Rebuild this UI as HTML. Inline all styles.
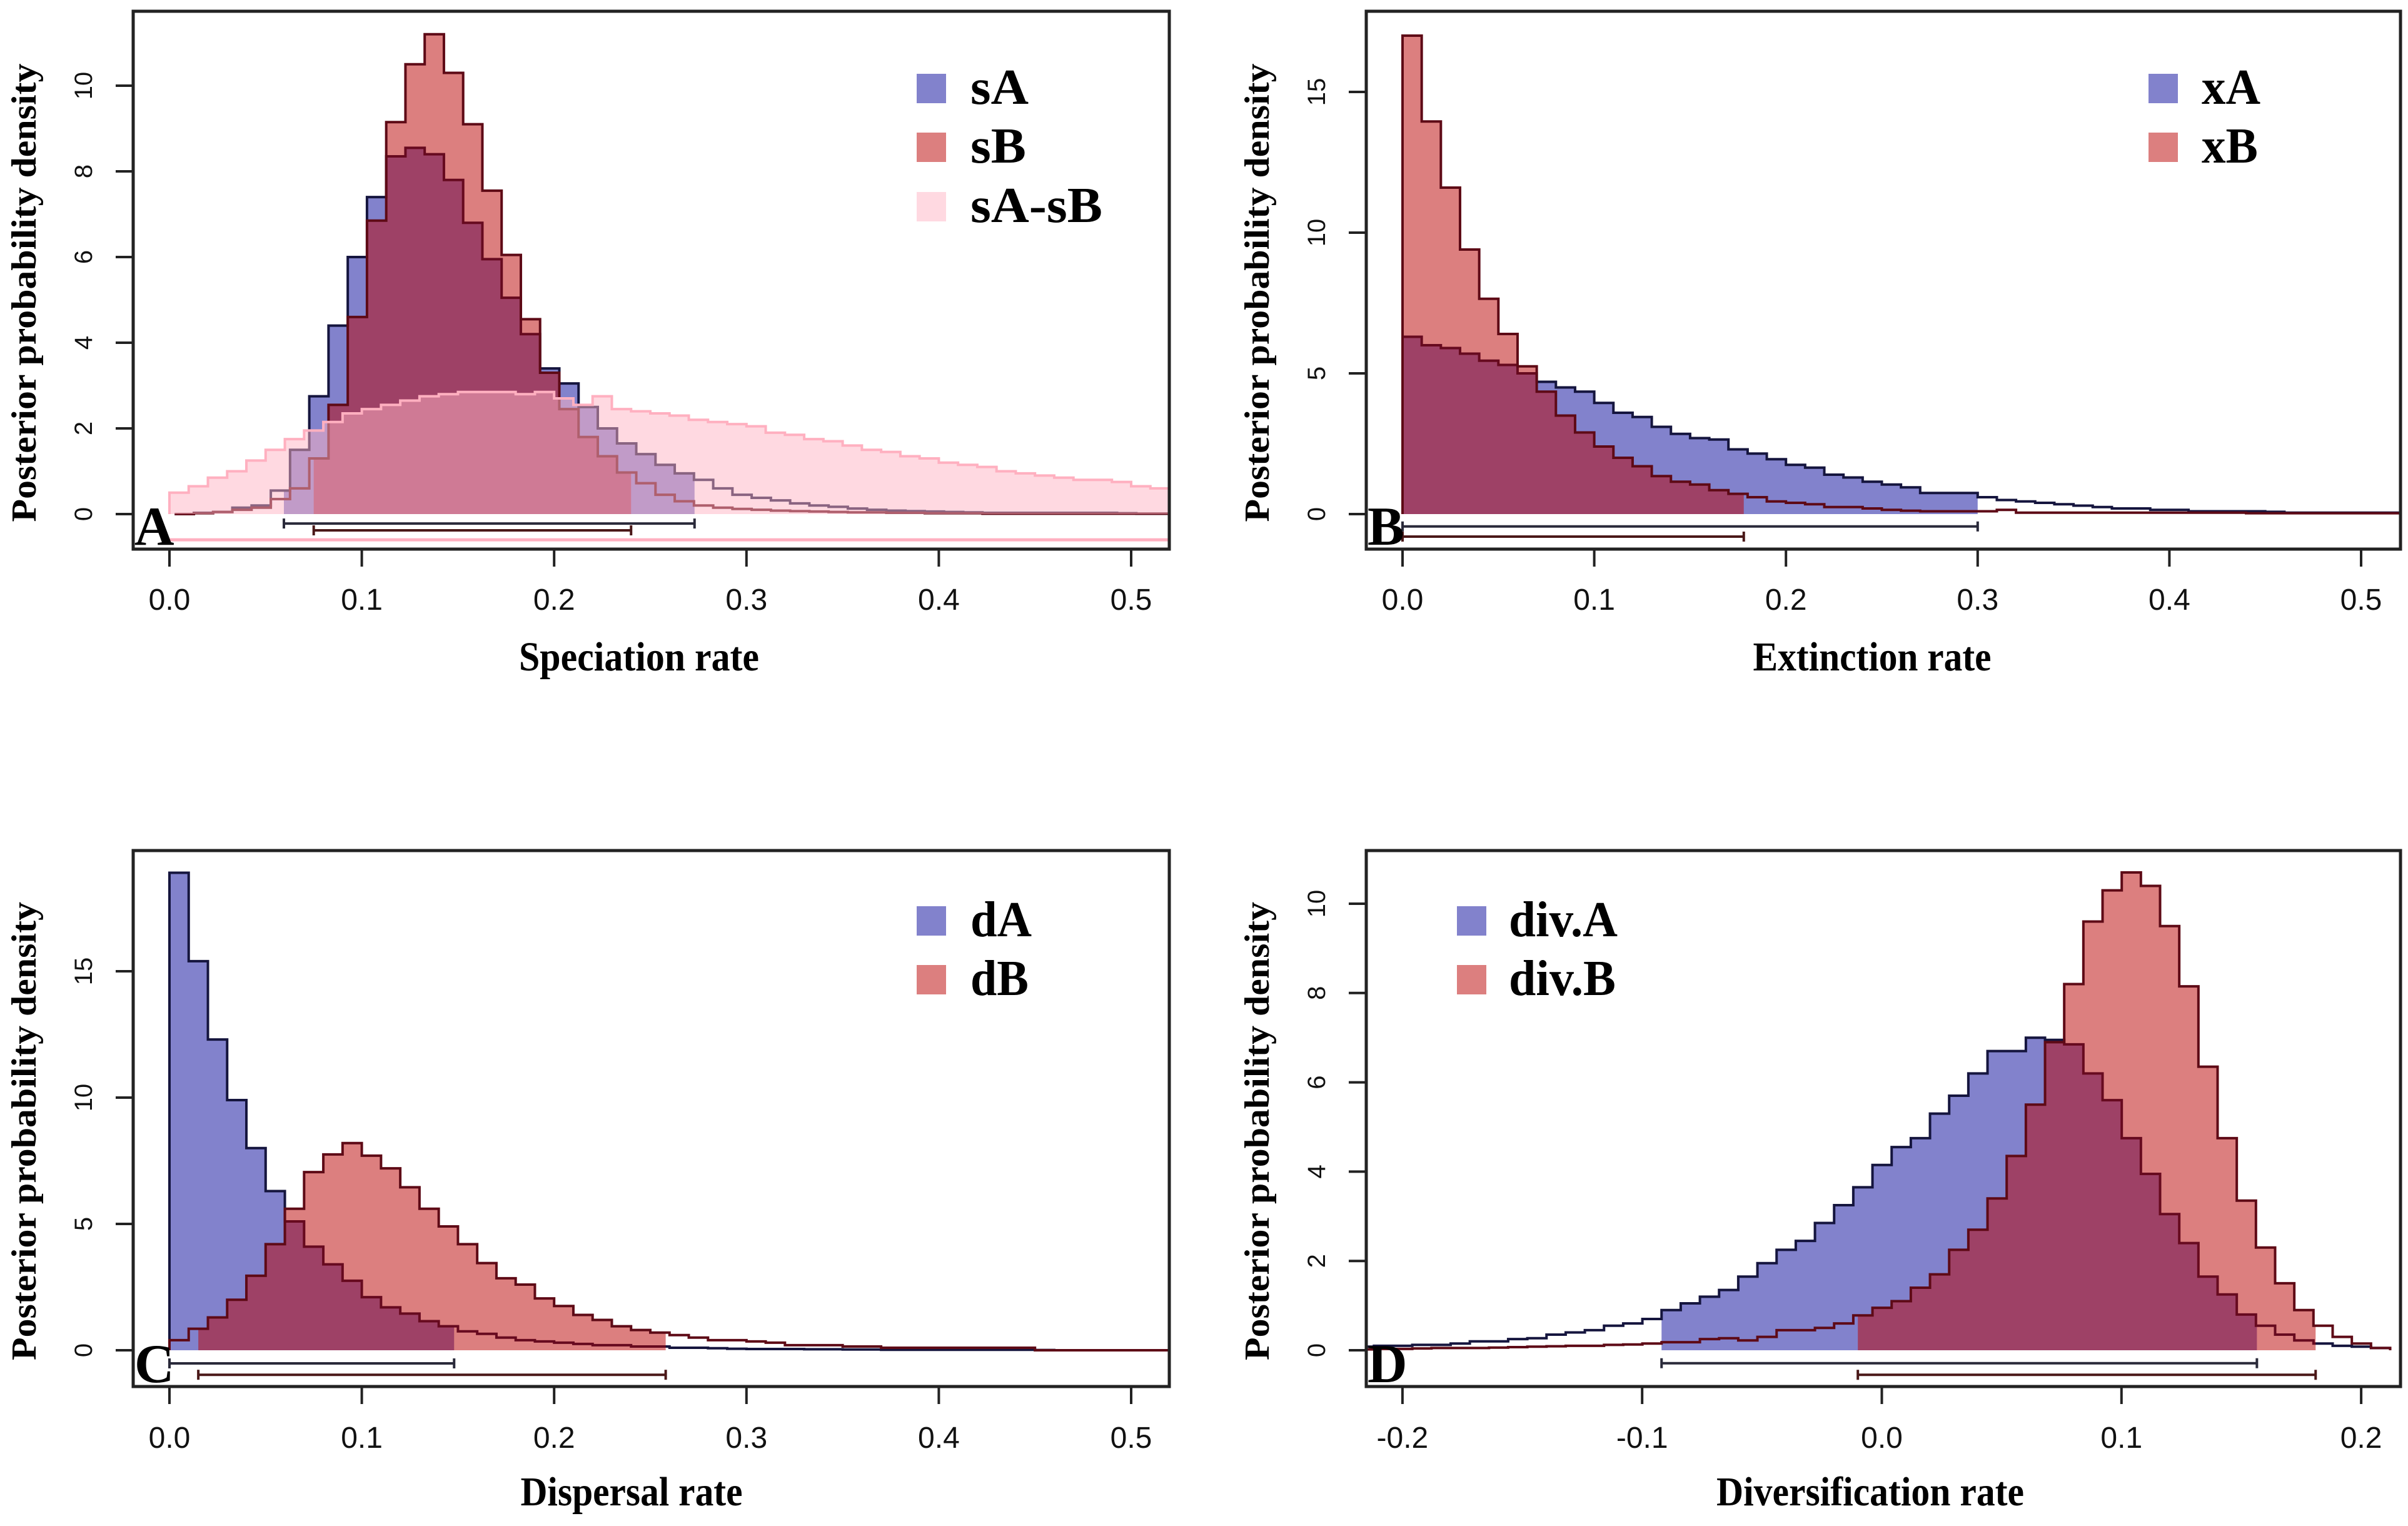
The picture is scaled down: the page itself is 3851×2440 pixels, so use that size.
<!DOCTYPE html>
<html><head><meta charset="utf-8"><style>
html,body{margin:0;padding:0;background:#fff;}
svg{display:block;}
.tick{font-family:"Liberation Sans Narrow","Liberation Sans",sans-serif;font-size:48px;fill:#111;}
.ytick{font-family:"Liberation Sans",sans-serif;font-size:40px;fill:#111;}
.title{font-family:"Liberation Serif",serif;font-weight:bold;fill:#000;}
</style></head><body>
<svg id="chart" xmlns="http://www.w3.org/2000/svg" width="3851" height="2440" viewBox="0 0 3851 2440">
<rect x="0" y="0" width="3851" height="2440" fill="#fff"/>
</svg>
<script>
// ---- Panel A: speciation ----
const sA_start = 0.0027, sA_width = 0.01;
const sA_vals = [0,0.03,0.05,0.15,0.2,0.55,1.5,2.75,4.4,6.0,7.4,8.35,8.55,8.4,7.8,6.8,5.95,5.05,4.2,3.4,3.05,2.5,2.0,1.65,1.4,1.15,0.95,0.8,0.6,0.45,0.38,0.32,0.25,0.2,0.17,0.13,0.1,0.08,0.07,0.06,0.05,0.04,0.03,0.03,0.03,0.03,0.03,0.03,0.03,0.02,0.01,0.01];
const sA_hpd = [0.0595,0.273];
const sB_start = 0.0027, sB_width = 0.01;
const sB_vals = [0,0.02,0.05,0.1,0.15,0.35,0.6,1.3,2.55,4.6,6.85,9.15,10.5,11.2,10.3,9.1,7.55,6.05,4.55,3.3,2.45,1.8,1.35,0.97,0.72,0.45,0.3,0.2,0.15,0.12,0.1,0.08,0.07,0.06,0.05,0.04,0.04,0.03,0.03,0.02,0.02,0.02,0.01,0.01,0.01,0.01,0.01,0.01,0.01,0.01,0.01,0.01];
const sB_hpd = [0.075,0.24];
const sAB_start = 0, sAB_width = 0.01;
const sAB_vals = [0.5,0.65,0.85,1.0,1.25,1.5,1.75,1.95,2.15,2.35,2.45,2.55,2.65,2.75,2.8,2.85,2.85,2.85,2.8,2.85,2.7,2.55,2.75,2.45,2.4,2.35,2.3,2.2,2.15,2.1,2.05,1.9,1.85,1.75,1.7,1.6,1.5,1.45,1.35,1.3,1.2,1.15,1.1,1.0,0.95,0.9,0.85,0.8,0.8,0.75,0.65,0.6,0.6,0.6];
const sAB_hpd = [0,0.6];
// ---- Panel B: extinction ----
const xA_start = 0, xA_width = 0.01;
const xA_vals = [6.3,6.0,5.9,5.7,5.45,5.3,5.0,4.7,4.5,4.35,3.95,3.6,3.45,3.1,2.85,2.7,2.65,2.3,2.15,1.95,1.75,1.65,1.4,1.3,1.15,1.05,0.95,0.75,0.75,0.75,0.6,0.5,0.45,0.4,0.35,0.3,0.25,0.2,0.2,0.15,0.15,0.1,0.1,0.1,0.1,0.08,0.05,0.05,0.05,0.05,0.05,0.05,0.05];
const xA_hpd = [0,0.30];
const xB_start = 0, xB_width = 0.01;
const xB_vals = [17.0,13.95,11.6,9.4,7.65,6.4,5.25,4.35,3.5,2.9,2.4,2.0,1.7,1.35,1.15,1.05,0.85,0.72,0.6,0.45,0.4,0.35,0.25,0.25,0.2,0.15,0.12,0.1,0.1,0.1,0.1,0.15,0.05,0.05,0.05,0.05,0.05,0.05,0.05,0.05,0.05,0.05,0.05,0.05,0.03,0.03,0.03,0.03,0.03,0.03,0.03,0.03,0.03];
const xB_hpd = [0,0.178];
// ---- Panel C: dispersal ----
const dA_start = 0, dA_width = 0.01;
const dA_vals = [18.9,15.4,12.3,9.9,8.0,6.3,5.1,4.1,3.4,2.75,2.1,1.7,1.45,1.15,0.95,0.75,0.65,0.5,0.4,0.35,0.3,0.25,0.2,0.2,0.15,0.15,0.1,0.1,0.08,0.06,0.05,0.05,0.05,0.04,0.04,0.03,0.03,0.02,0.02,0.02,0.02,0.02,0.02,0.02,0.02,0.01,0,0,0,0,0,0,0];
const dA_hpd = [0,0.148];
const dB_start = 0, dB_width = 0.01;
const dB_vals = [0.4,0.85,1.3,2.0,2.95,4.2,5.6,7.05,7.75,8.2,7.7,7.2,6.45,5.6,4.9,4.2,3.45,2.85,2.6,2.05,1.75,1.4,1.2,0.95,0.8,0.7,0.6,0.5,0.4,0.4,0.35,0.3,0.2,0.2,0.2,0.15,0.15,0.1,0.1,0.1,0.1,0.1,0.1,0.1,0.1,0,0,0,0,0,0,0,0];
const dB_hpd = [0.015,0.258];
// ---- Panel D: diversification ----
const divA_start = -0.2199, divA_width = 0.008;
const divA_vals = [0.08,0.1,0.1,0.12,0.12,0.15,0.2,0.2,0.25,0.27,0.35,0.4,0.45,0.55,0.6,0.7,
  0.9,1.05,1.2,1.35,1.65,1.95,2.25,2.45,2.85,3.25,3.65,4.15,4.55,4.75,5.3,5.7,6.2,6.7,6.7,7.0,6.95,6.85,6.2,5.6,4.75,3.95,3.05,2.4,1.65,1.25,0.8,0.55,0.35,0.22,0.15,0.1,0.08,0.05];
const divA_hpd = [-0.0919,0.1565];
const divB_start = -0.2199, divB_width = 0.008;
const divB_vals = [0.02,0.03,0.03,0.04,0.05,0.05,0.05,0.06,0.07,0.08,0.09,0.1,0.1,0.12,0.13,0.15,
  0.18,0.18,0.25,0.27,0.22,0.3,0.45,0.45,0.5,0.6,0.78,0.95,1.1,1.4,1.7,2.25,2.7,3.4,4.35,5.5,6.9,8.2,9.6,10.3,10.7,10.4,9.5,8.15,6.35,4.75,3.35,2.3,1.5,0.9,0.55,0.3,0.15,0.05];
const divB_hpd = [-0.01,0.181];
// tick labels
const tickA = [0,0.1,0.2,0.3,0.4,0.5], tickA_lab = ["0.0","0.1","0.2","0.3","0.4","0.5"];
const tickD = [-0.2,-0.1,0,0.1,0.2], tickD_lab = ["-0.2","-0.1","0.0","0.1","0.2"];
const yticksA = [0,2,4,6,8,10], yticksB = [0,5,10,15], yticksC = [0,5,10,15], yticksD = [0,2,4,6,8,10];

const NS = "http://www.w3.org/2000/svg";
const svg = document.getElementById('chart');
function mk(tag, attrs, parent){const e=document.createElementNS(NS,tag);for(const k in attrs)e.setAttribute(k,attrs[k]);(parent||svg).appendChild(e);return e;}

const BLUE_F="rgba(0,0,150,0.49)", RED_F="rgba(185,0,0,0.5)", PINK_F="rgba(255,180,196,0.5)";
const BLUE_L="#15153e", RED_L="#5e0a16", PINK_L="#ffb0c0";

const panels = [
 {id:'a', letter:'A', box:[213,18,1870,878], x0:271, xs:3076, y0:822, ys:68.5, xt:tickA, xl:tickA_lab, yt:yticksA, title:'Speciation rate', tlen:384, tcx:1022, tcy:1072, xlabY:975,
  series:[
   {name:'sA', start:sA_start, w:sA_width, vals:sA_vals, hpd:sA_hpd, fill:BLUE_F, line:BLUE_L, iy:-0.22, ic:'#2a2a3a'},
   {name:'sB', start:sB_start, w:sB_width, vals:sB_vals, hpd:sB_hpd, fill:RED_F, line:RED_L, iy:-0.38, ic:'#4a1818'},
   {name:'sA-sB', start:sAB_start, w:sAB_width, vals:sAB_vals, hpd:sAB_hpd, fill:PINK_F, line:PINK_L, iy:-0.6, ic:'#ffb0c0', nocap:true}],
  legend:{x:1466, ys:[118,212,307], lens:[93,89,211], tx:1552}},
 {id:'b', letter:'B', box:[2185,18,3839,878], x0:2243, xs:3066, y0:822, ys:45, xt:tickA, xl:tickA_lab, yt:yticksB, title:'Extinction rate', tlen:381, tcx:2994, tcy:1072, xlabY:975,
  series:[
   {name:'xA', start:xA_start, w:xA_width, vals:xA_vals, hpd:xA_hpd, fill:BLUE_F, line:BLUE_L, iy:-0.44, ic:'#2a2a3a'},
   {name:'xB', start:xB_start, w:xB_width, vals:xB_vals, hpd:xB_hpd, fill:RED_F, line:RED_L, iy:-0.8, ic:'#4a1818'}],
  legend:{x:3436, ys:[118,212], lens:[94,90], tx:3521}},
 {id:'c', letter:'C', box:[213,1360,1870,2217], x0:271, xs:3076, y0:2159, ys:40.4, xt:tickA, xl:tickA_lab, yt:yticksC, title:'Dispersal rate', tlen:355, tcx:1010, tcy:2407, xlabY:2315,
  series:[
   {name:'dA', start:dA_start, w:dA_width, vals:dA_vals, hpd:dA_hpd, fill:BLUE_F, line:BLUE_L, iy:-0.52, ic:'#2a2a3a'},
   {name:'dB', start:dB_start, w:dB_width, vals:dB_vals, hpd:dB_hpd, fill:RED_F, line:RED_L, iy:-0.97, ic:'#4a1818'}],
  legend:{x:1466, ys:[1449,1543], lens:[98,93], tx:1552}},
 {id:'d', letter:'D', box:[2185,1360,3839,2217], x0:3009.5, xs:3833, y0:2159, ys:71.4, xt:tickD, xl:tickD_lab, yt:yticksD, title:'Diversification rate', tlen:492, tcx:2991, tcy:2407, xlabY:2315,
  series:[
   {name:'div.A', start:divA_start, w:divA_width, vals:divA_vals, hpd:divA_hpd, fill:BLUE_F, line:BLUE_L, iy:-0.29, ic:'#2a2a3a'},
   {name:'div.B', start:divB_start, w:divB_width, vals:divB_vals, hpd:divB_hpd, fill:RED_F, line:RED_L, iy:-0.55, ic:'#4a1818'}],
  legend:{x:2330, ys:[1449,1543], lens:[174,171], tx:2413}}
];

panels.forEach(p=>{
  const [L,T,R,B] = p.box;
  const X = v => p.x0 + v*p.xs;
  const Y = v => p.y0 - v*p.ys;
  const g = mk('g',{});
  
  
  const cp = mk('clipPath',{id:'clip-'+p.id}, g);
  mk('rect',{x:L,y:T,width:R-L,height:B-T}, cp);
  const plot = mk('g',{'clip-path':'url(#clip-'+p.id+')'}, g);
  
  
  p.series.forEach(s=>{
    let d='';
    const lo=s.hpd[0], hi=s.hpd[1];
    let pts=[];
    s.vals.forEach((v,i)=>{
      const a=s.start+i*s.w, b=a+s.w;
      const aa=Math.max(a,lo), bb=Math.min(b,hi);
      if(bb>aa){pts.push([X(aa),Y(v)]);pts.push([X(bb),Y(v)]);}
    });
    if(pts.length){
      d='M'+pts[0][0]+','+Y(0)+' '+pts.map(q=>'L'+q[0]+','+q[1]).join(' ')+' L'+pts[pts.length-1][0]+','+Y(0)+' Z';
      const f=mk('path',{d:d,fill:s.fill,stroke:'none'},plot);
      
      
    }
    let od='M'+X(s.start)+','+Y(0);
    s.vals.forEach((v,i)=>{const a=s.start+i*s.w,b=a+s.w;od+=' L'+X(a)+','+Y(v)+' L'+X(b)+','+Y(v);});
    od+=' L'+X(s.start+s.vals.length*s.w)+','+Y(0);
    const o=mk('path',{d:od,fill:'none',stroke:s.line,'stroke-width':4,'stroke-linejoin':'miter'},plot);
    
    
    const iy=Y(s.iy);
    const ig=mk('g',{stroke:s.ic,'stroke-width':s.nocap?5:4},plot);
    
    
    mk('line',{x1:X(lo),y1:iy,x2:X(hi),y2:iy},ig);
    if(!s.nocap){
      mk('line',{x1:X(lo),y1:iy-8,x2:X(lo),y2:iy+8},ig);
      mk('line',{x1:X(hi),y1:iy-8,x2:X(hi),y2:iy+8},ig);
    }
  });
  const bx=mk('rect',{x:L,y:T,width:R-L,height:B-T,fill:'none',stroke:'#222','stroke-width':5},g);
  
  
  const xa=mk('g',{},g);
  
  
  p.xt.forEach((v,i)=>{
    mk('line',{x1:X(v),y1:B,x2:X(v),y2:B+28,stroke:'#222','stroke-width':4},xa);
    const t=mk('text',{x:X(v),y:p.xlabY,'text-anchor':'middle',class:'tick'},xa);
    t.textContent=p.xl[i];
  });
  const ya=mk('g',{},g);
  
  
  p.yt.forEach(v=>{
    mk('line',{x1:L,y1:Y(v),x2:L-28,y2:Y(v),stroke:'#222','stroke-width':4},ya);
    const tx=L-66, ty=Y(v);
    const t=mk('text',{x:tx,y:ty,'text-anchor':'middle',class:'ytick',transform:'rotate(-90 '+tx+' '+ty+')'},ya);
    t.textContent=String(v);
  });
  const xt=mk('text',{x:p.tcx,y:p.tcy,'text-anchor':'middle',class:'title','font-size':66,textLength:p.tlen,lengthAdjust:'spacingAndGlyphs'},g);
  
  
  xt.textContent=p.title;
  const ycx=L-156, ycy=(T+B)/2+20;
  const yt=mk('text',{x:ycx,y:ycy,'text-anchor':'middle',class:'title','font-size':56,textLength:733,lengthAdjust:'spacingAndGlyphs',transform:'rotate(-90 '+ycx+' '+ycy+')'},g);
  
  
  yt.textContent='Posterior probability density';
  const lt=mk('text',{x:L+2,y:B-7,class:'title','font-size':88},g);
  
  
  lt.textContent=p.letter;
  const lg=mk('g',{},g);
  
  
  p.series.forEach((s,i)=>{
    const y=p.legend.ys[i];
    const r=mk('rect',{x:p.legend.x,y:y,width:47,height:47,fill:s.fill},lg);
    
    
    const t=mk('text',{x:p.legend.tx,y:y+48,class:'title','font-size':80,textLength:p.legend.lens[i],lengthAdjust:'spacingAndGlyphs'},lg);
    
    
    t.textContent=s.name;
  });
});
</script>
</body></html>
